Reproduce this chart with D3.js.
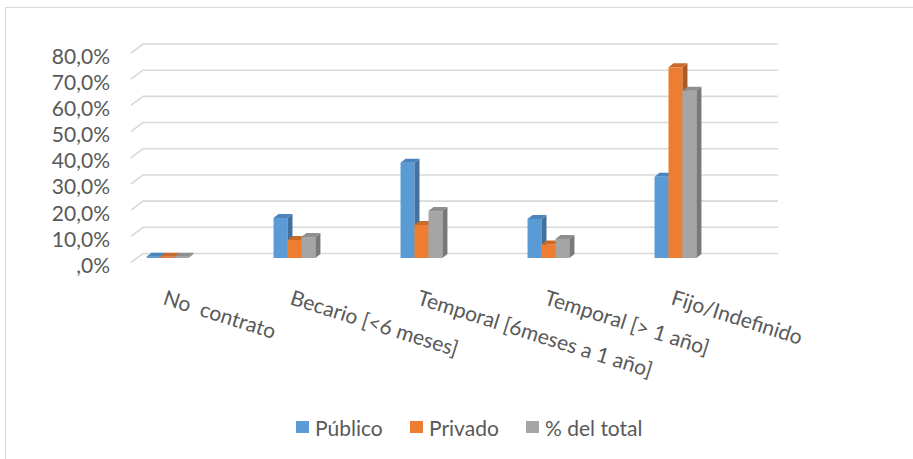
<!DOCTYPE html>
<meta charset="utf-8">
<script src="https://d3js.org/d3.v7.min.js"></script>
<style>
  body { margin: 0; background: #fff; }
  text { font-family: Lato, "Open Sans", sans-serif; fill: #595959; }
</style>
<div id="chart"></div>
<script>

// data
var categories = ["No  contrato", "Becario [<6 meses]", "Temporal [6meses a 1 año]", "Temporal [> 1 año]", "Fijo/Indefinido"];
var series = ["Público", "Privado", "% del total"];
var publico = [0.5, 15.3, 36.4, 14.9, 31.0];
var privado = [0.5, 6.9, 12.6, 5.2, 72.8];
var total = [0.5, 8.0, 17.9, 7.3, 63.9];
var yTicks = [0, 10, 20, 30, 40, 50, 60, 70, 80];

var values = [publico, privado, total];
var colors = ["#5b9bd5", "#ed7d31", "#a5a5a5"];
var sides = ["#41719c", "#ae5a21", "#787878"];
var tops = ["#4a84bb", "#c9692a", "#8e8e8e"];

var W = 913, H = 459;
var svg = d3.select("#chart").append("svg")
    .attr("width", W).attr("height", H);

// chart border
svg.append("rect")
    .attr("x", 5.5).attr("y", 7.5)
    .attr("width", 920).attr("height", 470)
    .attr("fill", "none").attr("stroke", "#d9d9d9");

// back wall scales
var x = d3.scaleBand().domain(categories).range([143, 778]);
var y = d3.scaleLinear().domain([0, 80]).range([253.5, 44]);
var deep = {dx: 12, dy: 9};       // floor depth
var half = {dx: 6, dy: 4.5};      // bars stand mid-depth
var bd = {dx: 5, dy: 4};          // bar depth

var x1 = d3.scaleBand().domain(series)
    .range([x.bandwidth() * 0.075, x.bandwidth() * 0.405]);

// gridlines
svg.append("g").selectAll("path")
  .data(yTicks)
  .enter().append("path")
    .attr("d", function(t) {
      return "M" + (x.range()[0] - deep.dx) + "," + (y(t) + deep.dy) +
             "L" + x.range()[0] + "," + y(t) +
             "L" + x.range()[1] + "," + y(t);
    })
    .attr("fill", "none")
    .attr("stroke", "#d9d9d9")
    .attr("stroke-width", 1.6);

// y labels
svg.append("g").selectAll("text")
  .data(yTicks)
  .enter().append("text")
    .attr("x", 110)
    .attr("y", function(t) { return y(t) + 11; })
    .attr("text-anchor", "end")
    .attr("dominant-baseline", "central")
    .style("font-size", "21px")
    .text(function(t) { return t === 0 ? ",0%" : t.toFixed(1).replace(".", ",") + "%"; });

// bars
var bars = [];
categories.forEach(function(c, i) {
  series.forEach(function(s, j) {
    bars.push({c: c, s: j, v: values[j][i]});
  });
});

var g = svg.append("g");
bars.forEach(function(d) {
  var x0 = x(d.c) + x1(series[d.s]) - half.dx;
  var w = x1.bandwidth();
  var base = y(0) + half.dy;
  var top = y(d.v) + half.dy;
  // front
  g.append("rect")
    .attr("x", x0).attr("y", top)
    .attr("width", w).attr("height", base - top)
    .attr("fill", colors[d.s]);
  // side
  g.append("path")
    .attr("d", "M" + (x0 + w) + "," + top +
               "L" + (x0 + w + bd.dx) + "," + (top - bd.dy) +
               "L" + (x0 + w + bd.dx) + "," + (base - bd.dy) +
               "L" + (x0 + w) + "," + base + "Z")
    .attr("fill", sides[d.s]);
  // top
  g.append("path")
    .attr("d", "M" + x0 + "," + top +
               "L" + (x0 + bd.dx) + "," + (top - bd.dy) +
               "L" + (x0 + w + bd.dx) + "," + (top - bd.dy) +
               "L" + (x0 + w) + "," + top + "Z")
    .attr("fill", tops[d.s]);
});

// category labels
svg.append("g").selectAll("text")
  .data(categories)
  .enter().append("text")
    .attr("transform", function(c) {
      return "translate(" + (x(c) + 19) + ",304) rotate(17.5)";
    })
    .style("font-size", "21px")
    .style("white-space", "pre")
    .text(function(c) { return c; });

// legend
var lx = [296, 410, 526];
var leg = svg.append("g");
series.forEach(function(s, j) {
  leg.append("rect")
    .attr("x", lx[j]).attr("y", 421)
    .attr("width", 13).attr("height", 12)
    .attr("fill", colors[j]);
  leg.append("text")
    .attr("x", lx[j] + 19).attr("y", 427)
    .attr("dominant-baseline", "central")
    .style("font-size", "21px")
    .text(s);
});
</script>
